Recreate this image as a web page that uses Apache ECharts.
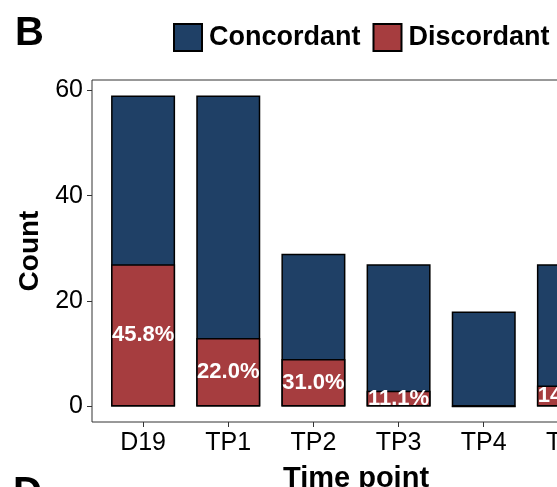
<!DOCTYPE html>
<html>
<head>
<meta charset="utf-8">
<script src="https://cdn.jsdelivr.net/npm/echarts@6/dist/echarts.min.js"></script>
<style>
  html, body { margin: 0; padding: 0; background: #fff; }
  #chart { width: 557px; height: 487px; }
</style>
</head>
<body>
<div id="chart"></div>
<script>
// Time points on the x axis
const timePoints = ['D19', 'TP1', 'TP2', 'TP3', 'TP4', 'TP5'];
// Counts per time point
const concordant = [32, 46, 20, 24, 18, 23];
const discordant = [27, 13, 9, 3, 0, 4];
// y-axis ticks
const yTicks = [0, 20, 40, 60];

const FONT = '"Liberation Sans", Arial, Helvetica, sans-serif';
const BLUE = '#1f4066';
const RED = '#a63d3f';

// column heights: discordant at the bottom, concordant stacked above it
const total = concordant.map((c, i) => c + discordant[i]);

// discordant share of each column, printed inside the red segment
const pctLabel = discordant.map((d, i) => d > 0 ? (d / total[i] * 100).toFixed(1) + '%' : '');

const xIdx = timePoints.map((_, i) => i);
const yMax = Math.max(...total);
const yMin = -yMax * 0.05;            // 5% padding on both ends
const yTop = yMax * 1.05;

const chart = echarts.init(document.getElementById('chart'), null, { renderer: 'canvas' });

chart.setOption({
  animation: false,
  backgroundColor: '#fff',
  textStyle: { fontFamily: FONT },
  graphic: [
    { type: 'text', left: 15, top: 14, style: { text: 'B', font: 'bold 40px ' + FONT, fill: '#000' } },
    { type: 'text', left: 13, top: 474, style: { text: 'D', font: 'bold 40px ' + FONT, fill: '#000' } }
  ],
  legend: {
    left: 168,
    top: 18,
    width: 450,
    itemWidth: 28,
    itemHeight: 27,
    itemGap: 12,
    icon: 'rect',
    data: ['Concordant', 'Discordant'],
    textStyle: { fontFamily: FONT, fontWeight: 'bold', fontSize: 27, color: '#000', padding: [0, 0, 0, 2] }
  },
  grid: {
    left: 92,
    top: 80,
    height: 342,
    width: 528,
    outerBoundsMode: 'none',
    containLabel: false,
    show: true,
    borderColor: '#333',
    borderWidth: 1
  },
  xAxis: {
    type: 'value',
    min: -0.6,
    max: timePoints.length - 1 + 0.6,
    splitLine: { show: false },
    axisLine: { show: false, onZero: false },
    axisTick: { show: true, length: 5, lineStyle: { color: '#333' }, customValues: xIdx },
    axisLabel: {
      customValues: xIdx,
      margin: 9,
      fontSize: 25,
      color: '#000',
      fontFamily: FONT,
      formatter: v => timePoints[Math.round(v)]
    },
    name: 'Time point',
    nameLocation: 'middle',
    nameGap: 42,
    nameTextStyle: { fontFamily: FONT, fontWeight: 'bold', fontSize: 29, color: '#000' }
  },
  yAxis: {
    type: 'value',
    min: yMin,
    max: yTop,
    splitLine: { show: false },
    axisLine: { show: false, onZero: false },
    axisTick: { show: true, length: 5, lineStyle: { color: '#333' }, customValues: yTicks },
    axisLabel: { customValues: yTicks, margin: 9, fontSize: 25, color: '#000', fontFamily: FONT },
    name: 'Count',
    nameLocation: 'middle',
    nameRotate: 90,
    nameGap: 48,
    nameTextStyle: { fontFamily: FONT, fontWeight: 'bold', fontSize: 28, color: '#000' }
  },
  series: [
    {
      // full column; its upper part is the concordant segment
      name: 'Concordant',
      type: 'bar',
      barWidth: 64,
      barGap: '-100%',
      data: total.map((v, i) => [i, v]),
      itemStyle: { color: BLUE, borderColor: '#000', borderWidth: 1.5 }
    },
    {
      name: 'Discordant',
      type: 'bar',
      barWidth: 64,
      barGap: '-100%',
      data: discordant.map((v, i) => [i, v]),
      itemStyle: { color: RED, borderColor: '#000', borderWidth: 1.5 },
      label: {
        show: true,
        position: 'inside',
        color: '#fff',
        fontWeight: 'bold',
        fontSize: 22,
        fontFamily: FONT,
        formatter: p => pctLabel[p.dataIndex]
      }
    }
  ]
});
</script>
</body>
</html>
